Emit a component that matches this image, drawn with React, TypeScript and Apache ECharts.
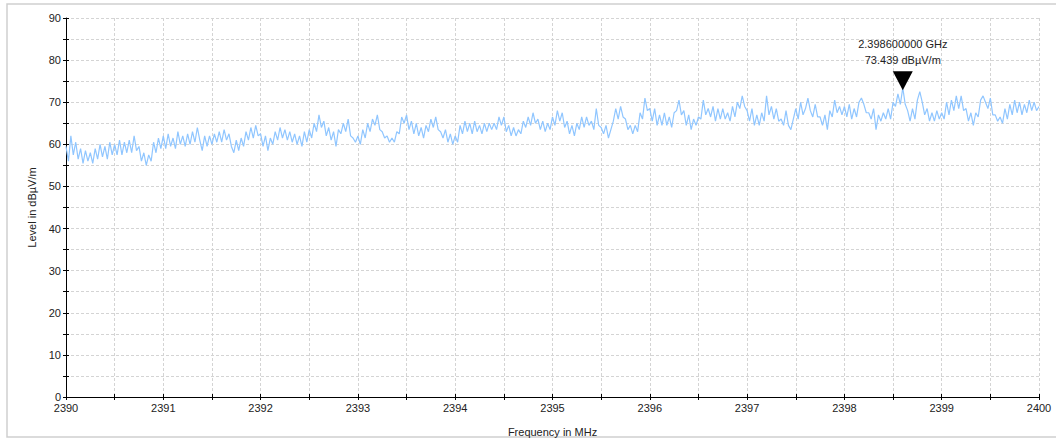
import React, { useEffect, useRef } from "react";
import * as echarts from "echarts";

// Frequency axis (MHz)
const freqStart = 2390;
const freqEnd = 2400;
const freqStep = 0.025;

// Level readings (dBµV/m), 40 samples per MHz
const seg2390 = [59.5, 56, 62, 57.5, 60.5, 56.5, 59, 55.5, 58.5, 56, 58, 55.5, 59, 56.5, 60, 57, 59.5, 56.5, 60.5, 57.5, 60, 57.5, 61, 57.5, 60.5, 58, 61, 58, 62, 58.5, 59.5, 56, 58, 55, 57.5, 56, 60.5, 58, 61.5, 59];
const seg2391 = [62, 59, 62.5, 59.5, 61.5, 59, 63, 60, 62, 59.5, 62.5, 60, 63, 60.5, 64, 61, 58.5, 62, 59.5, 62, 60, 62.5, 60.5, 63, 60.5, 63.5, 61, 62.5, 59.5, 58, 61, 58.5, 61.5, 59.5, 63, 61, 64, 61.5, 64.5, 62];
const seg2392 = [62.5, 59.5, 62, 58.5, 61.5, 60, 63, 61, 64, 61.5, 63.5, 61, 63, 60.5, 62.5, 60, 62, 59.5, 63, 60.5, 63.5, 61.5, 65, 63, 67, 64, 65.5, 62, 64, 61, 63, 59.5, 63.5, 62.5, 65, 63, 66, 62, 61.5, 60.5];
const seg2393 = [62, 60, 63.5, 61.5, 65, 63, 66, 64.5, 67, 63.5, 63, 61.5, 62, 60.5, 61.5, 60.5, 63, 62.5, 66.5, 65, 67, 63.5, 65.5, 62.5, 65, 62, 64, 61.5, 64.5, 63, 66, 64, 66.5, 63.5, 63, 61.5, 63.5, 60.5, 62.5, 60];
const seg2394 = [62, 60.5, 64.5, 62.5, 65.5, 63, 65, 62.5, 65.5, 63, 64.5, 62.5, 65, 63, 65, 63.5, 65, 63.5, 66.5, 64.5, 66.5, 63, 64.5, 62, 64, 62, 63.5, 62.5, 65.5, 64, 66.5, 64.5, 67.5, 65, 66, 63.5, 65.5, 63, 65, 63.5];
const seg2395 = [66.5, 64.5, 68, 65.5, 67.5, 64, 65.5, 62.5, 64.5, 62, 65, 63.5, 66.5, 64, 66.5, 64.5, 65.5, 63.5, 68.5, 64.5, 64, 62.5, 64.5, 61.5, 63.5, 65.5, 68.5, 66, 69, 66.5, 66, 63.5, 64.5, 62.5, 64.5, 63, 67.5, 66, 71, 68];
const seg2396 = [68.5, 65.5, 68.5, 64.5, 67, 64.5, 67.5, 64.5, 66.5, 64, 67.5, 68, 70.5, 67, 68, 64.5, 67, 63.5, 66, 64.5, 66.5, 66, 70.5, 67, 68.5, 66.5, 69, 65.5, 68.5, 66, 68.5, 66, 67.5, 65.5, 69, 66.5, 70, 68.5, 71.5, 69];
const seg2397 = [68, 65.5, 68.5, 64.5, 67, 64.5, 67.5, 65.5, 71.5, 67, 69, 66, 68.5, 65.5, 66, 64.5, 68, 64.5, 63.5, 66, 68.5, 66, 70, 67, 68.5, 71, 68, 66.5, 69.5, 66.5, 66.5, 64.5, 67, 63.5, 68, 66.5, 70.5, 67.5, 69, 67];
const seg2398 = [69, 66.5, 69.5, 66, 68.5, 66.5, 70, 71, 69.5, 67.5, 67.5, 66, 68.5, 63.5, 67, 65.5, 67.5, 66, 68.5, 66, 70, 69, 72, 69.5, 73.439, 69.5, 68, 65.5, 68.5, 66, 70.5, 72.5, 70, 67, 68.5, 65.5, 67.5, 65.5, 68, 66];
const seg2399 = [67.5, 66, 70, 67, 70.5, 68, 71.5, 68.5, 71.5, 68, 68.5, 65.5, 67.5, 64.5, 67.5, 66.5, 70.5, 71.5, 70, 68.5, 71, 67, 67, 65.5, 66.5, 65, 68.5, 66, 69.5, 67, 70.5, 67.5, 70, 67, 69.5, 67.5, 70.5, 68, 70, 68];
const seg2400 = [69];

const levels = [
  ...seg2390, ...seg2391, ...seg2392, ...seg2393, ...seg2394,
  ...seg2395, ...seg2396, ...seg2397, ...seg2398, ...seg2399, ...seg2400,
];

// Marker
const markerFreqMHz = 2398.6;
const markerLevel = 73.439;

const xAxisTitle = "Frequency in MHz";
const yAxisTitle = "Level in dBµV/m";

export default function App() {
  const ref = useRef<HTMLDivElement>(null);

  useEffect(() => {
    document.body.style.margin = "0";
    if (!ref.current) return;
    const chart = echarts.init(ref.current, undefined, { renderer: "svg" });

    const data = levels.map((v, i) => [
      +(freqStart + i * freqStep).toFixed(3),
      v,
    ]);

    const font = "'Liberation Sans', Arial, sans-serif";
    const textColor = "#222";

    chart.setOption({
      animation: false,
      backgroundColor: "#fff",
      graphic: [
        {
          type: "rect",
          shape: { x: 7, y: 4, width: 1060, height: 433 },
          style: { fill: "none", stroke: "#cfcfcf", lineWidth: 1.5 },
          silent: true,
          z: -1,
        },
      ],
      grid: {
        left: 66,
        right: 17,
        top: 18,
        bottom: 46,
        containLabel: false,
        outerBoundsMode: "none",
      },
      xAxis: [
        {
          type: "value",
          min: freqStart,
          max: freqEnd,
          interval: 0.5,
          name: xAxisTitle,
          nameLocation: "middle",
          nameGap: 29,
          nameTextStyle: { color: textColor, fontFamily: font, fontSize: 11 },
          axisLine: { show: true, lineStyle: { color: "#000", width: 1 } },
          axisTick: { show: true, length: 3, lineStyle: { color: "#000" } },
          axisLabel: {
            color: textColor,
            fontFamily: font,
            fontSize: 11,
            margin: 5,
            formatter: (v: number) => (Math.abs(v - Math.round(v)) < 1e-6 ? String(Math.round(v)) : ""),
          },
          splitLine: { show: true, lineStyle: { color: "#d4d4d4", type: [3, 2], width: 1 } },
        },
        {
          type: "value",
          position: "bottom",
          min: freqStart,
          max: freqEnd,
          interval: 0.5,
          axisLine: { show: false },
          axisTick: { show: true, inside: true, length: 3, lineStyle: { color: "#000" } },
          axisLabel: { show: false },
          splitLine: { show: false },
        },
      ],
      yAxis: [
        {
          type: "value",
          min: 0,
          max: 90,
          interval: 5,
          name: yAxisTitle,
          nameLocation: "middle",
          nameGap: 29,
          nameRotate: 90,
          nameTextStyle: { color: textColor, fontFamily: font, fontSize: 11 },
          axisLine: { show: true, lineStyle: { color: "#000", width: 1 } },
          axisTick: { show: true, length: 3, lineStyle: { color: "#000" } },
          axisLabel: {
            color: textColor,
            fontFamily: font,
            fontSize: 11,
            margin: 5,
            formatter: (v: number) => (v % 10 === 0 ? String(v) : ""),
          },
          splitLine: { show: true, lineStyle: { color: "#d4d4d4", type: [3, 2], width: 1 } },
        },
        {
          type: "value",
          position: "left",
          min: 0,
          max: 90,
          interval: 5,
          axisLine: { show: false },
          axisTick: { show: true, inside: true, length: 3, lineStyle: { color: "#000" } },
          axisLabel: { show: false },
          splitLine: { show: false },
        },
      ],
      series: [
        {
          type: "line",
          data,
          showSymbol: false,
          symbol: "none",
          lineStyle: { color: "#90c6ff", width: 1.2 },
          silent: true,
          markPoint: {
            silent: true,
            data: [
              {
                coord: [markerFreqMHz, markerLevel],
                symbol: "triangle",
                symbolRotate: 180,
                symbolSize: [20, 19],
                symbolOffset: [0, -7],
                itemStyle: { color: "#000" },
                label: {
                  show: true,
                  position: "top",
                  distance: 3,
                  color: textColor,
                  fontFamily: font,
                  fontSize: 11,
                  lineHeight: 16,
                  align: "center",
                  formatter: () =>
                    `${(markerFreqMHz / 1000).toFixed(9)} GHz\n${markerLevel.toFixed(3)} dBµV/m`,
                },
              },
            ],
          },
        },
      ],
    });

    return () => chart.dispose();
  }, []);

  return <div ref={ref} style={{ width: 1056, height: 443 }} />;
}
